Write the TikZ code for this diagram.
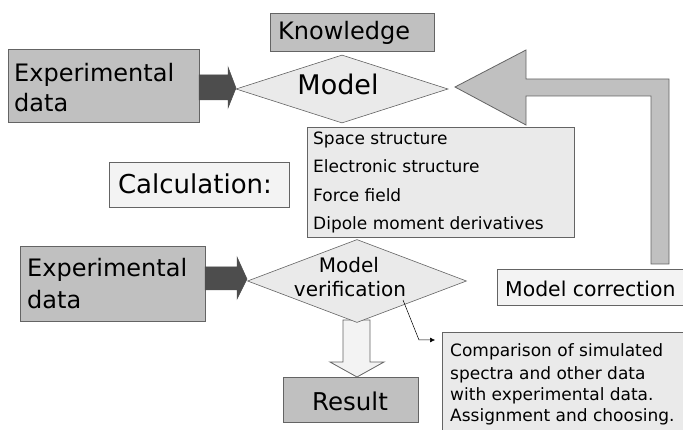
\documentclass[tikz,border=0pt]{standalone}
\usepackage{fontspec}
\setmainfont{DejaVu Sans}
\usetikzlibrary{shapes.geometric,arrows.meta}
\definecolor{bord}{RGB}{100,100,100}
\definecolor{gfill}{RGB}{192,192,192}
\definecolor{lfill}{RGB}{234,234,234}
\definecolor{wfill}{RGB}{243,243,243}
\definecolor{dark}{RGB}{77,77,77}
\begin{document}
\begin{tikzpicture}[x=1pt,y=-1pt,
  box/.style={draw=bord, line width=0.8pt, inner sep=0, anchor=north west},
  dia/.style={diamond, draw=bord, line width=0.6pt, fill=lfill, inner sep=0},
  txt/.style={inner sep=0, anchor=base west},
  ctxt/.style={inner sep=0, anchor=base},
  blockarrow/.style={draw=bord, line width=0.8pt},
  darkarrow/.style={fill=dark, draw=dark, line width=0.5pt}]
\useasboundingbox (0,0) rectangle (683,430);
\fill[white] (0,0) rectangle (683,430);

% big return arrow (model correction -> model)
\path[blockarrow, fill=gfill] (455,87) -- (526,50) -- (526,79) -- (669,79) -- (669,264)
  -- (651,264) -- (651,96) -- (526,96) -- (526,125) -- cycle;

% Knowledge
\node[box, fill=gfill, minimum width=164, minimum height=38] (know) at (270,13) {};
\node[txt, font=\fontsize{24}{24}\selectfont] (knowt) at (278,40) {Knowledge};

% Model diamond
\node[dia, minimum width=212, minimum height=68] (model) at (342,89) {};
\node[ctxt, font=\fontsize{27}{27}\selectfont] (modelt) at (338,95) {Model};

% Experimental data (top)
\node[box, fill=gfill, minimum width=191, minimum height=73] (exp1) at (8,49) {};
\node[txt, font=\fontsize{24}{24}\selectfont] (exp1a) at (14,82) {Experimental};
\node[txt, font=\fontsize{24}{24}\selectfont] (exp1b) at (14,112) {data};
\path[darkarrow] (199,75) -- (228,75) -- (228,67) -- (236,88) -- (228,108) -- (228,100) -- (199,100) -- cycle;

% calculation list
\node[box, fill=lfill, minimum width=267, minimum height=110] (calc) at (307,127) {};
\node[txt, font=\fontsize{17}{17}\selectfont] (c1) at (313,145) {Space structure};
\node[txt, font=\fontsize{17}{17}\selectfont] (c2) at (313,173) {Electronic structure};
\node[txt, font=\fontsize{17}{17}\selectfont] (c3) at (313,202) {Force field};
\node[txt, font=\fontsize{17}{17}\selectfont] (c4) at (313,230) {Dipole moment derivatives};

% Calculation:
\node[box, fill=wfill, minimum width=180, minimum height=45] (calcl) at (109,162) {};
\node[ctxt, font=\fontsize{26}{26}\selectfont] (calclt) at (195,194) {Calculation:};

% Result down arrow
\path[blockarrow, fill=wfill] (343,320) -- (370,320) -- (370,362) -- (384,362) -- (357,377)
  -- (330,362) -- (343,362) -- cycle;

% Model verification diamond
\node[dia, minimum width=219, minimum height=83] (ver) at (357,281) {};
\node[ctxt, font=\fontsize{20}{20}\selectfont] (vera) at (349,273) {Model};
\node[ctxt, font=\fontsize{20}{20}\selectfont] (verb) at (350,297) {verification};

% Experimental data (bottom)
\node[box, fill=gfill, minimum width=185, minimum height=75] (exp2) at (20,246) {};
\node[txt, font=\fontsize{24}{24}\selectfont] (exp2a) at (27,277) {Experimental};
\node[txt, font=\fontsize{24}{24}\selectfont] (exp2b) at (27,309) {data};
\path[darkarrow] (205,267) -- (237,267) -- (237,257) -- (247,279) -- (237,299) -- (237,290) -- (205,290) -- cycle;

% Result
\node[box, fill=gfill, minimum width=135, minimum height=45] (res) at (283,377) {};
\node[ctxt, font=\fontsize{24.5}{24.5}\selectfont] (rest) at (350,410) {Result};

% Model correction
\node[box, fill=wfill, minimum width=200, minimum height=36] (corr) at (497,269) {};
\node[txt, font=\fontsize{20.4}{20.4}\selectfont] (corrt) at (505,297) {Model correction};

% Comparison box
\node[box, fill=lfill, minimum width=260, minimum height=110] (comp) at (442,332) {};
\node[txt, font=\fontsize{17}{17}\selectfont] (p1) at (450,357) {Comparison of simulated};
\node[txt, font=\fontsize{17}{17}\selectfont] (p2) at (450,379) {spectra and other data};
\node[txt, font=\fontsize{17}{17}\selectfont] (p3) at (450,400) {with experimental data.};
\node[txt, font=\fontsize{17}{17}\selectfont] (p4) at (450,421) {Assignment and choosing.};

% thin connector
\coordinate (vs) at (403,300);
\coordinate (ve) at (435,340);
\draw[line width=0.5pt, -{Latex[length=5pt,width=5pt]}] (vs) -- (419,340) -- (ve);
\end{tikzpicture}
\end{document}
